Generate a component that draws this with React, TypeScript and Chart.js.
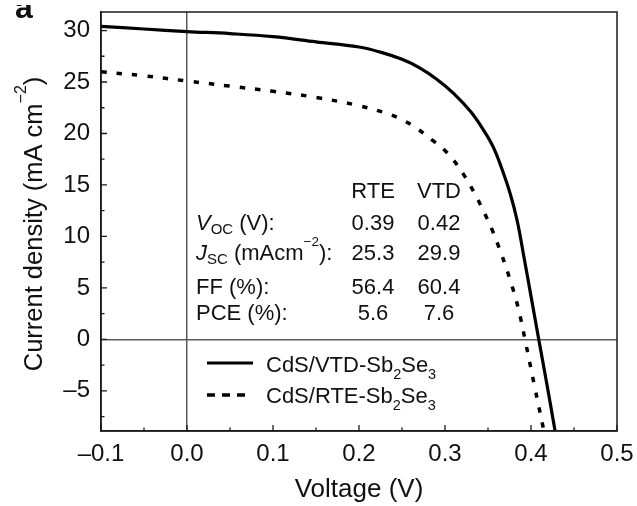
import React, { useEffect, useRef } from "react";
import { Chart, registerables } from "chart.js";

Chart.register(...registerables);

// ---- data ----
const voltageVTD = [-0.1, -0.05, 0.0, 0.05, 0.1, 0.15, 0.2, 0.225, 0.25, 0.27, 0.29, 0.31, 0.33, 0.345, 0.356, 0.366, 0.376, 0.384, 0.392, 0.4, 0.409, 0.419, 0.428];
const currentVTD = [30.4, 30.15, 29.9, 29.7, 29.4, 28.9, 28.4, 27.9, 27.2, 26.4, 25.3, 23.9, 22.1, 20.3, 18.7, 16.6, 14.1, 11.5, 7.9, 4.2, 0.0, -4.6, -8.9];

const voltageRTE = [-0.1, -0.05, 0.0, 0.05, 0.1, 0.15, 0.2, 0.234, 0.251, 0.267, 0.286, 0.298, 0.309, 0.321, 0.333, 0.344, 0.355, 0.366, 0.376, 0.385, 0.393, 0.404, 0.415];
const currentRTE = [26.0, 25.6, 25.1, 24.6, 24.1, 23.5, 22.7, 21.9, 21.3, 20.5, 19.3, 18.5, 17.5, 16.1, 14.4, 12.6, 10.6, 8.2, 5.7, 3.1, 0.0, -4.5, -8.9];

const seriesLabels = ["CdS/VTD-Sb2Se3", "CdS/RTE-Sb2Se3"];
const tableColumns = ["RTE", "VTD"];
const tableRTE = ["0.39", "25.3", "56.4", "5.6"];
const tableVTD = ["0.42", "29.9", "60.4", "7.6"];

const xTickMin = -0.1;
const xTickMax = 0.5;
const xTickStep = 0.1;
const yMin = -8.9;
const yMax = 31.8;
const yTickStep = 5;

const FAMILY = '"Liberation Sans", Arial, Helvetica, sans-serif';

type Run = { t: string; size: number; dy?: number; italic?: boolean; bold?: boolean };

function fontOf(r: Run) {
  return `${r.italic ? "italic " : ""}${r.bold ? "bold " : ""}${r.size}px ${FAMILY}`;
}

function drawRuns(ctx: CanvasRenderingContext2D, x: number, y: number, runs: Run[], align: "left" | "center" = "left") {
  ctx.textAlign = "left";
  ctx.textBaseline = "alphabetic";
  let total = 0;
  const widths: number[] = [];
  for (const r of runs) {
    ctx.font = fontOf(r);
    const w = ctx.measureText(r.t).width;
    widths.push(w);
    total += w;
  }
  let cx = align === "center" ? x - total / 2 : x;
  runs.forEach((r, i) => {
    ctx.font = fontOf(r);
    ctx.fillText(r.t, cx, y + (r.dy || 0));
    cx += widths[i];
  });
}

const overlayPlugin = {
  id: "overlay",
  afterDraw(chart: any) {
    const ctx: CanvasRenderingContext2D = chart.ctx;
    const area = chart.chartArea;
    const xs = chart.scales.x;
    const ys = chart.scales.y;
    ctx.save();

    // frame
    ctx.strokeStyle = "#1a1a1a";
    ctx.lineWidth = 1.5;
    ctx.strokeRect(area.left, area.top, area.right - area.left, area.bottom - area.top);

    // inward ticks (major + minor)
    ctx.lineWidth = 1.3;
    ctx.beginPath();
    const nx = Math.round((xTickMax - xTickMin) / (xTickStep / 2));
    for (let i = 0; i <= nx; i++) {
      const v = xTickMin + (i * xTickStep) / 2;
      const px = xs.getPixelForValue(v);
      const len = i % 2 === 0 ? 6 : 3.5;
      ctx.moveTo(px, area.bottom);
      ctx.lineTo(px, area.bottom - len);
    }
    const yStart = Math.ceil(yMin / (yTickStep / 2)) * (yTickStep / 2);
    for (let v = yStart; v <= yMax + 1e-9; v += yTickStep / 2) {
      const py = ys.getPixelForValue(v);
      const major = Math.abs(v / yTickStep - Math.round(v / yTickStep)) < 1e-6;
      const len = major ? 6 : 3.5;
      ctx.moveTo(area.left, py);
      ctx.lineTo(area.left + len, py);
    }
    ctx.stroke();

    ctx.fillStyle = "#111";

    // axis titles
    drawRuns(ctx, (area.left + area.right) / 2, 497, [{ t: "Voltage (V)", size: 26 }], "center");
    ctx.save();
    ctx.translate(42, 224);
    ctx.rotate(-Math.PI / 2);
    drawRuns(ctx, 0, 0, [
      { t: "Current density (mA cm", size: 25.5 },
      { t: "\u22122", size: 16, dy: -16 },
      { t: ")", size: 25.5 },
    ], "center");
    ctx.restore();

    // panel letter (cut at top as in the reference)
    ctx.save();
    ctx.beginPath();
    ctx.rect(0, 5, 60, 20);
    ctx.clip();
    drawRuns(ctx, 15, 18, [{ t: "a", size: 32, bold: true }]);
    ctx.restore();

    // table
    const F = 22;
    const colX = [373, 439];
    const rowBase = [230.4, 260.4, 293.7, 320.4];
    tableColumns.forEach((c, i) => drawRuns(ctx, colX[i], 198.4, [{ t: c, size: F }], "center"));
    const labelX = 196;
    drawRuns(ctx, labelX, rowBase[0], [
      { t: "V", size: F, italic: true },
      { t: "OC", size: 15, dy: 3.5 },
      { t: " (V):", size: F },
    ]);
    drawRuns(ctx, labelX, rowBase[1], [
      { t: "J", size: F, italic: true },
      { t: "SC", size: 15, dy: 3.5 },
      { t: " (mAcm", size: F },
      { t: "\u22122", size: 13.5, dy: -14.5 },
      { t: "):", size: F },
    ]);
    drawRuns(ctx, labelX, rowBase[2], [{ t: "FF (%):", size: F }]);
    drawRuns(ctx, labelX, rowBase[3], [{ t: "PCE (%):", size: F }]);
    tableRTE.forEach((v, i) => drawRuns(ctx, colX[0], rowBase[i], [{ t: v, size: F }], "center"));
    tableVTD.forEach((v, i) => drawRuns(ctx, colX[1], rowBase[i], [{ t: v, size: F }], "center"));

    // legend
    ctx.strokeStyle = "#000";
    ctx.lineWidth = 3.2;
    ctx.setLineDash([]);
    ctx.beginPath();
    ctx.moveTo(207, 363);
    ctx.lineTo(253, 363);
    ctx.stroke();
    ctx.lineWidth = 3.5;
    ctx.setLineDash([8, 7]);
    ctx.beginPath();
    ctx.moveTo(207, 395);
    ctx.lineTo(245, 395);
    ctx.stroke();
    ctx.setLineDash([]);
    const legendRuns = (s: string): Run[] => {
      const m = s.match(/^(.*Sb)2(Se)3$/);
      if (!m) return [{ t: s, size: F }];
      return [
        { t: m[1], size: F },
        { t: "2", size: 14.5, dy: 7 },
        { t: m[2], size: F },
        { t: "3", size: 14.5, dy: 7 },
      ];
    };
    drawRuns(ctx, 266, 371.5, legendRuns(seriesLabels[0]));
    drawRuns(ctx, 266, 403.3, legendRuns(seriesLabels[1]));

    ctx.restore();
  },
};

export default function App() {
  const ref = useRef<HTMLCanvasElement | null>(null);

  useEffect(() => {
    document.body.style.margin = "0";
    const canvas = ref.current;
    if (!canvas) return;
    const tickFont = { family: FAMILY, size: 24 };
    const zeroGrid = (c: any) => (c.tick && Math.abs(c.tick.value) < 1e-9 ? "#5a5a5a" : "rgba(0,0,0,0)");
    const chart = new Chart(canvas, {
      type: "line",
      data: {
        datasets: [
          {
            label: seriesLabels[0],
            data: voltageVTD.map((v, i) => ({ x: v, y: currentVTD[i] })),
            borderColor: "#000",
            borderWidth: 3.2,
            pointRadius: 0,
            fill: false,
            tension: 0.4,
          },
          {
            label: seriesLabels[1],
            data: voltageRTE.map((v, i) => ({ x: v, y: currentRTE[i] })),
            borderColor: "#000",
            borderWidth: 3.5,
            borderDash: [5.5, 10],
            borderCapStyle: "butt",
            pointRadius: 0,
            fill: false,
            tension: 0.4,
          },
        ],
      } as any,
      options: {
        animation: false,
        responsive: false,
        devicePixelRatio: 1,
        layout: { padding: { top: 12, right: 20, left: 0, bottom: 0 } },
        plugins: { legend: { display: false }, tooltip: { enabled: false }, title: { display: false } },
        scales: {
          x: {
            type: "linear",
            min: xTickMin,
            max: xTickMax,
            ticks: {
              stepSize: xTickStep,
              font: tickFont,
              color: "#111",
              padding: 9,
              maxRotation: 0,
              callback: (v: any) => {
                const n = Number(v);
                const s = Math.abs(n).toFixed(1);
                return n < -1e-9 ? "\u2013" + s : s;
              },
            },
            grid: { drawTicks: false, lineWidth: 1.5, color: zeroGrid },
            border: { display: true, color: "#1a1a1a", width: 1.5 },
            afterFit: (s: any) => {
              s.height = 75;
              s.paddingLeft = 0;
              s.paddingRight = 0;
            },
          },
          y: {
            type: "linear",
            min: yMin,
            max: yMax,
            ticks: {
              stepSize: yTickStep,
              includeBounds: false,
              font: tickFont,
              color: "#111",
              padding: 11,
              callback: (v: any) => {
                const n = Math.round(Number(v));
                return n < 0 ? "\u2013" + Math.abs(n) : String(n);
              },
            },
            grid: { drawTicks: false, lineWidth: 1.5, color: zeroGrid },
            border: { display: true, color: "#1a1a1a", width: 1.5 },
            afterFit: (s: any) => {
              s.width = 101;
              s.paddingTop = 0;
              s.paddingBottom = 0;
            },
          },
        },
      } as any,
      plugins: [overlayPlugin],
    });
    return () => chart.destroy();
  }, []);

  return (
    <div style={{ width: 637, height: 506, background: "#fff" }}>
      <canvas ref={ref} width={637} height={506} style={{ display: "block" }} />
    </div>
  );
}
